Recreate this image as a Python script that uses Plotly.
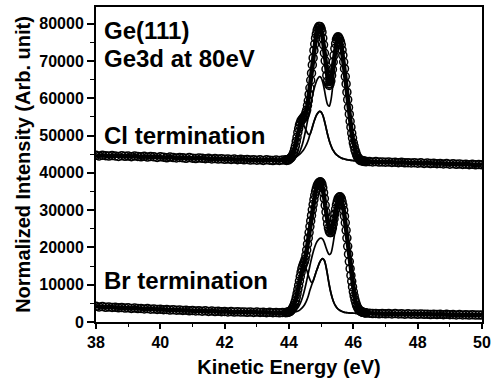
import plotly.graph_objects as go

# ---------------- data ----------------
# Energy grids (eV)
E_LEFT = [38.0, 38.1, 38.2, 38.3, 38.4, 38.5, 38.6, 38.7, 38.8, 38.9,
          39.0, 39.1, 39.2, 39.3, 39.4, 39.5, 39.6, 39.7, 39.8, 39.9,
          40.0, 40.1, 40.2, 40.3, 40.4, 40.5, 40.6, 40.7, 40.8, 40.9,
          41.0, 41.1, 41.2, 41.3, 41.4, 41.5, 41.6, 41.7, 41.8, 41.9,
          42.0, 42.1, 42.2, 42.3, 42.4, 42.5, 42.6, 42.7, 42.8, 42.9,
          43.0, 43.1, 43.2, 43.3, 43.4, 43.5, 43.6, 43.7, 43.8]
E_PEAK = [43.9, 43.925, 43.95, 43.975, 44.0, 44.025, 44.05, 44.075, 44.1, 44.125,
          44.15, 44.175, 44.2, 44.225, 44.25, 44.275, 44.3, 44.325, 44.35, 44.375,
          44.4, 44.425, 44.45, 44.475, 44.5, 44.525, 44.55, 44.575, 44.6, 44.625,
          44.65, 44.675, 44.7, 44.725, 44.75, 44.775, 44.8, 44.825, 44.85, 44.875,
          44.9, 44.925, 44.95, 44.975, 45.0, 45.025, 45.05, 45.075, 45.1, 45.125,
          45.15, 45.175, 45.2, 45.225, 45.25, 45.275, 45.3, 45.325, 45.35, 45.375,
          45.4, 45.425, 45.45, 45.475, 45.5, 45.525, 45.55, 45.575, 45.6, 45.625,
          45.65, 45.675, 45.7, 45.725, 45.75, 45.775, 45.8, 45.825, 45.85, 45.875,
          45.9, 45.925, 45.95, 45.975, 46.0, 46.025, 46.05, 46.075, 46.1, 46.125,
          46.15, 46.175, 46.2, 46.225, 46.25, 46.275, 46.3, 46.325, 46.35, 46.375,
          46.4]
E_RIGHT = [46.5, 46.6, 46.7, 46.8, 46.9, 47.0, 47.1, 47.2, 47.3, 47.4,
           47.5, 47.6, 47.7, 47.8, 47.9, 48.0, 48.1, 48.2, 48.3, 48.4,
           48.5, 48.6, 48.7, 48.8, 48.9, 49.0, 49.1, 49.2, 49.3, 49.4,
           49.5, 49.6, 49.7, 49.8, 49.9, 50.0]
E_FIT = [43.9, 43.95, 44.0, 44.05, 44.1, 44.15, 44.2, 44.25, 44.3, 44.35,
         44.4, 44.45, 44.5, 44.55, 44.6, 44.65, 44.7, 44.75, 44.8, 44.85,
         44.9, 44.95, 45.0, 45.05, 45.1, 45.15, 45.2, 45.25, 45.3, 45.35,
         45.4, 45.45, 45.5, 45.55, 45.6, 45.65, 45.7, 45.75, 45.8, 45.85,
         45.9, 45.95, 46.0, 46.05, 46.1, 46.15, 46.2, 46.25, 46.3, 46.35,
         46.4]

# ---- Cl termination (upper spectrum) ----
CL_LEFT = [44700, 44550, 44750, 44600, 44500, 44650, 44550, 44400, 44600, 44450,
           44500, 44350, 44550, 44400, 44300, 44450, 44250, 44400, 44300, 44150,
           44300, 44200, 44050, 44250, 44100, 44000, 44150, 44050, 43900, 44100,
           43950, 43850, 44000, 43900, 43800, 43950, 43750, 43850, 43700, 43800,
           43650, 43750, 43600, 43700, 43550, 43650, 43500, 43600, 43450, 43550,
           43400, 43500, 43350, 43500, 43400, 43300, 43450, 43350, 43450]
CL_PEAK = [43500, 43350, 43550, 43450, 43650, 43800, 43950, 44250, 44500, 45000,
           45550, 46400, 47250, 48450, 49550, 50850, 51850, 52850, 53450, 54050,
           54250, 54650, 54750, 55150, 55450, 56150, 56850, 58050, 59350, 61050,
           62750, 64850, 66750, 68950, 70850, 72850, 74550, 76150, 77250, 78250,
           78750, 79250, 79300, 79200, 78650, 77750, 76150, 74350, 72150, 70050,
           67850, 66150, 64650, 63850, 63450, 63850, 64650, 66150, 67750, 69750,
           71550, 73350, 74650, 75750, 76250, 76550, 76250, 75750, 75150, 74350,
           72950, 71550, 69750, 67950, 65850, 63850, 61650, 59650, 57550, 55750,
           53850, 52250, 50650, 49350, 48050, 47150, 46150, 45550, 44850, 44450,
           43950, 43750, 43450, 43450, 43250, 43300, 43150, 43200, 43050, 43150,
           43000]
CL_RIGHT = [43050, 42950, 43050, 42900, 42950, 42850, 42950, 42800, 42850, 42750,
            42850, 42700, 42750, 42650, 42750, 42600, 42700, 42550, 42650, 42500,
            42600, 42450, 42550, 42400, 42500, 42350, 42450, 42300, 42400, 42250,
            42350, 42200, 42300, 42150, 42250, 42150]
CL_FIT_BULK = [43450, 43500, 43550, 43600, 43700, 43850, 44100, 44500, 45100, 46000,
               47200, 48800, 50700, 52800, 55000, 57300, 59500, 61500, 63200, 64500,
               65400, 65800, 65500, 64300, 62300, 60000, 58300, 57900, 59300, 62500,
               66800, 71000, 74600, 76200, 75100, 72900, 69700, 65800, 61600, 57500,
               53800, 50600, 48000, 46100, 44800, 43900, 43450, 43250, 43150, 43050,
               43000]
CL_FIT_SHOULDER = [43450, 43500, 43600, 43800, 44200, 45000, 46300, 48100, 50100, 51900,
                   52900, 52800, 52000, 51100, 50400, 50300, 51500, 53000, 54300, 55400,
                   56100, 56500, 56300, 55500, 54000, 52200, 50300, 48700, 47400, 46400,
                   45700, 45100, 44700, 44400, 44100, 43900, 43800, 43650, 43550, 43450,
                   43400, 43350, 43300, 43250, 43200, 43150, 43100, 43100, 43050, 43050,
                   43000]
CL_FIT_SINGLE = [43450, 43500, 43550, 43650, 43800, 43950, 44200, 44450, 44750, 45150,
                 45600, 46150, 46850, 47700, 48800, 50300, 51500, 53000, 54300, 55400,
                 56100, 56500, 56300, 55500, 54000, 52200, 50300, 48700, 47400, 46400,
                 45700, 45100, 44700, 44400, 44100, 43900, 43800, 43650, 43550, 43450,
                 43400, 43350, 43300, 43250, 43200, 43150, 43100, 43100, 43050, 43050,
                 43000]

# ---- Br termination (lower spectrum) ----
BR_LEFT = [4200, 4050, 4150, 3950, 4050, 3900, 3950, 3800, 3900, 3750,
           3800, 3650, 3750, 3600, 3650, 3500, 3600, 3450, 3500, 3350,
           3450, 3300, 3350, 3200, 3300, 3150, 3200, 3100, 3150, 3000,
           3100, 2950, 3050, 2900, 3000, 2850, 2950, 2800, 2900, 2750,
           2850, 2700, 2800, 2650, 2750, 2650, 2700, 2600, 2700, 2550,
           2650, 2550, 2600, 2500, 2600, 2500, 2550, 2450, 2550]
BR_PEAK = [2500, 2600, 2550, 2650, 2700, 2800, 2950, 3200, 3500, 3900,
           4400, 5000, 5700, 6600, 7600, 8700, 9800, 11000, 12200, 13300,
           14300, 15000, 15600, 16100, 16800, 17900, 19300, 20900, 22500, 24000,
           25600, 27100, 28600, 30100, 31500, 32800, 34000, 35000, 35800, 36500,
           37000, 37300, 37500, 37600, 37400, 36900, 36000, 34700, 33100, 31300,
           29500, 27800, 26300, 25200, 24400, 24000, 24000, 24400, 25200, 26300,
           27600, 29000, 30300, 31400, 32300, 33000, 33400, 33600, 33500, 33100,
           32300, 31300, 30000, 28400, 26600, 24600, 22500, 20300, 18200, 16200,
           14300, 12500, 10900, 9400, 8100, 7000, 6000, 5200, 4500, 4000,
           3600, 3300, 3050, 2900, 2750, 2650, 2600, 2550, 2500, 2450,
           2400]
BR_RIGHT = [2350, 2250, 2300, 2200, 2300, 2200, 2250, 2150, 2250, 2150,
            2200, 2100, 2200, 2100, 2150, 2050, 2150, 2050, 2100, 2000,
            2100, 2000, 2050, 1950, 2050, 1950, 2000, 1900, 2000, 1900,
            1950, 1850, 1950, 1850, 1900, 1850]
BR_FIT_BULK = [2500, 2550, 2600, 2650, 2750, 2900, 3150, 3550, 4150, 5000,
               6100, 7500, 9200, 11100, 13100, 15100, 17000, 18700, 20100, 21200,
               21900, 22400, 22500, 22200, 21300, 20000, 18800, 18100, 18400, 20000,
               22600, 25700, 28800, 31500, 33000, 32600, 30300, 26900, 22700, 18500,
               14600, 11200, 8400, 6300, 4800, 3800, 3200, 2850, 2650, 2550,
               2450]
BR_FIT_SHOULDER = [2500, 2550, 2650, 2850, 3250, 3900, 4900, 6300, 8200, 10400,
                   12600, 14200, 14600, 13900, 12500, 11400, 10600, 11000, 12300, 13600,
                   14800, 15900, 16700, 17000, 16500, 14900, 12500, 10000, 7900, 6300,
                   5100, 4300, 3700, 3300, 3000, 2800, 2650, 2550, 2500, 2450,
                   2400, 2400, 2350, 2350, 2300, 2300, 2300, 2250, 2250, 2250,
                   2200]
BR_FIT_SINGLE = [2500, 2500, 2550, 2600, 2650, 2700, 2750, 2850, 3000, 3300,
                 3700, 4200, 4900, 5800, 7000, 8500, 9800, 11000, 12300, 13600,
                 14800, 15900, 16700, 17000, 16500, 14900, 12500, 10000, 7900, 6300,
                 5100, 4300, 3700, 3300, 3000, 2800, 2650, 2550, 2500, 2450,
                 2400, 2400, 2350, 2350, 2300, 2300, 2300, 2250, 2250, 2250,
                 2200]

LABELS = ["Ge(111)", "Ge3d at 80eV", "Cl termination", "Br termination"]
LABEL_Y = [78300, 70700, 49900, 11200]

# ---------------- figure ----------------
FONT = "Liberation Sans, Arial, sans-serif"
fig = go.Figure()

E_DATA = E_LEFT + E_PEAK + E_RIGHT
for comps in [(CL_FIT_BULK, CL_FIT_SHOULDER, CL_FIT_SINGLE),
              (BR_FIT_BULK, BR_FIT_SHOULDER, BR_FIT_SINGLE)]:
    for comp in comps:
        fig.add_trace(go.Scatter(x=E_FIT, y=comp, mode="lines",
                                 line=dict(color="black", width=1.7, shape="spline"),
                                 showlegend=False, hoverinfo="skip"))

for ys in [CL_LEFT + CL_PEAK + CL_RIGHT, BR_LEFT + BR_PEAK + BR_RIGHT]:
    fig.add_trace(go.Scatter(x=E_DATA, y=ys, mode="lines+markers",
                             line=dict(color="black", width=4.5),
                             marker=dict(symbol="circle-open", size=8,
                                         color="black", line=dict(width=1.5)),
                             showlegend=False))

for txt, yv in zip(LABELS, LABEL_Y):
    fig.add_annotation(x=38.2, y=yv, xref="x", yref="y", text=txt,
                       showarrow=False, xanchor="left", yanchor="middle",
                       font=dict(family=FONT, size=24, color="black", weight="bold"))

fig.update_xaxes(range=[38, 50], dtick=2, tick0=38, automargin=False,
                 ticks="outside", ticklen=5, tickwidth=1.5, tickcolor="black",
                 minor=dict(dtick=1, ticks="outside", ticklen=3, tickwidth=1.2, tickcolor="black"),
                 showline=True, linecolor="black", linewidth=2, mirror=True,
                 showgrid=False, zeroline=False,
                 tickfont=dict(family=FONT, size=16, color="black", weight="bold"),
                 title=dict(text="Kinetic Energy (eV)", standoff=10,
                            font=dict(family=FONT, size=20, color="black", weight="bold")))
fig.update_yaxes(range=[0, 84500], dtick=10000, tick0=0, tickformat="d", automargin=False,
                 ticks="outside", ticklen=7, tickwidth=1.5, tickcolor="black",
                 minor=dict(dtick=5000, ticks="outside", ticklen=4, tickwidth=1.2, tickcolor="black"),
                 showline=True, linecolor="black", linewidth=2, mirror=True,
                 showgrid=False, zeroline=False,
                 tickfont=dict(family=FONT, size=16, color="black", weight="bold"),
                 title=dict(text="Normalized Intensity (Arb. unit)", standoff=3,
                            font=dict(family=FONT, size=20, color="black", weight="bold")))

fig.update_layout(width=491, height=384, margin=dict(l=96, r=9, t=7, b=62),
                  paper_bgcolor="white", plot_bgcolor="white")

fig.write_html("out.html")
